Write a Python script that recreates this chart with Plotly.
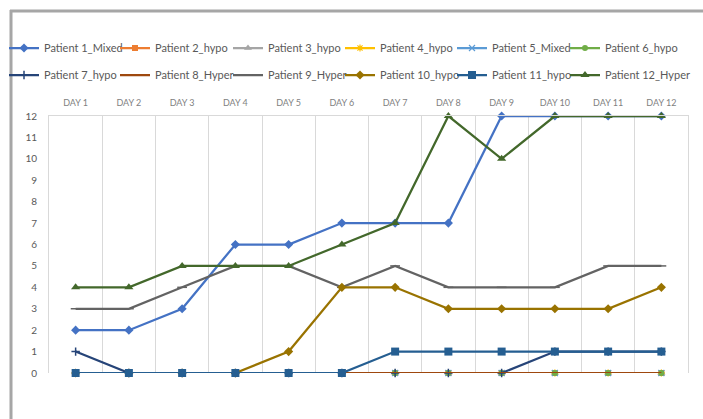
import plotly.graph_objects as go

# Daily scores per patient
days = ["DAY 1", "DAY 2", "DAY 3", "DAY 4", "DAY 5", "DAY 6",
        "DAY 7", "DAY 8", "DAY 9", "DAY 10", "DAY 11", "DAY 12"]

patient_names = ["Patient 1_Mixed", "Patient 2_hypo", "Patient 3_hypo",
                 "Patient 4_hypo", "Patient 5_Mixed", "Patient 6_hypo",
                 "Patient 7_hypo", "Patient 8_Hyper", "Patient 9_Hyper",
                 "Patient 10_hypo", "Patient 11_hypo", "Patient 12_Hyper"]

p1 = [2, 2, 3, 6, 6, 7, 7, 7, 12, 12, 12, 12]
p2 = [0, 0, 0, 0, 0, 0, 0, 0, 0, 0, 0, 0]
p3 = [0, 0, 0, 0, 0, 0, 0, 0, 0, 0, 0, 0]
p4 = [0, 0, 0, 0, 0, 0, 0, 0, 0, 0, 0, 0]
p5 = [0, 0, 0, 0, 0, 0, 0, 0, 0, 0, 0, 0]
p6 = [0, 0, 0, 0, 0, 0, 0, 0, 0, 0, 0, 0]
p7 = [1, 0, 0, 0, 0, 0, 0, 0, 0, 1, 1, 1]
p8 = [0, 0, 0, 0, 0, 0, 0, 0, 0, 0, 0, 0]
p9 = [3, 3, 4, 5, 5, 4, 5, 4, 4, 4, 5, 5]
p10 = [0, 0, 0, 0, 1, 4, 4, 3, 3, 3, 3, 4]
p11 = [0, 0, 0, 0, 0, 0, 1, 1, 1, 1, 1, 1]
p12 = [4, 4, 5, 5, 5, 6, 7, 12, 10, 12, 12, 12]

series = [p1, p2, p3, p4, p5, p6, p7, p8, p9, p10, p11, p12]

colors = ["#4472C4", "#ED7D31", "#A5A5A5", "#FFC000", "#5B9BD5", "#70AD47",
          "#264478", "#9E480E", "#636363", "#997300", "#255E91", "#43682B"]

markers = [
    dict(symbol="diamond", size=7),
    dict(symbol="square", size=6),
    dict(symbol="triangle-up", size=7),
    dict(symbol="asterisk-open", size=6, line=dict(width=1.2)),
    dict(symbol="x-thin-open", size=6, line=dict(width=1.2)),
    dict(symbol="circle", size=6),
    dict(symbol="cross-thin-open", size=6, line=dict(width=1.5)),
    None,
    dict(symbol="line-ew-open", size=7, line=dict(width=1.5)),
    dict(symbol="diamond", size=7),
    dict(symbol="square", size=8),
    dict(symbol="triangle-up", size=8),
]

W, H = 703, 419
L, R, T, B = 49, 15, 116, 46
pw, ph = W - L - R, H - T - B


def px_x(px):
    return (px - L) / pw


def px_y(py):
    return (H - B - py) / ph


# legend grid: 6 columns x 2 rows, one legend box per entry
col_left = [4, 115, 228, 340, 452, 565]
row_mid = [48, 75]

font_family = "Lato, 'Open Sans', sans-serif"
legend_common = dict(orientation="h", xanchor="left", yanchor="middle",
                     itemwidth=30,
                     font=dict(family=font_family, size=11, color="#595959"),
                     bgcolor="rgba(0,0,0,0)", tracegroupgap=0)

fig = go.Figure()
legend_layouts = {}
for i, (name, vals, col, mk) in enumerate(zip(patient_names, series, colors, markers)):
    key = "legend" if i == 0 else f"legend{i + 1}"
    row, c = divmod(i, 6)
    legend_layouts[key] = dict(legend_common, x=px_x(col_left[c]), y=px_y(row_mid[row]))
    kw = dict(x=days, y=vals, name=name, cliponaxis=False, showlegend=True,
              line=dict(color=col, width=2.25), legend=key)
    if mk is None:
        kw["mode"] = "lines"
    else:
        m = dict(mk)
        m["color"] = col
        if "line" in m:
            m["line"] = dict(m["line"], color=col)
        kw["mode"] = "lines+markers"
        kw["marker"] = m
    fig.add_trace(go.Scatter(**kw))

fig.update_layout(
    width=W, height=H,
    showlegend=True,
    margin=dict(l=L, r=R, t=T, b=B, autoexpand=False),
    paper_bgcolor="white", plot_bgcolor="white",
    font=dict(family=font_family, color="#595959"),
    xaxis=dict(
        type="category", side="top", tickson="boundaries",
        showgrid=True, gridcolor="#D9D9D9", gridwidth=1,
        showline=True, linecolor="#D9D9D9", linewidth=1, mirror=False,
        ticks="", ticklabelstandoff=5,
        tickfont=dict(size=9, color="#7F7F7F"),
        range=[-0.5, 11.5], zeroline=False,
    ),
    yaxis=dict(
        range=[0, 12], dtick=1, showgrid=False, zeroline=False,
        showline=True, linecolor="#D9D9D9", linewidth=1, mirror=True,
        ticks="outside", ticklen=9, tickcolor="rgba(0,0,0,0)",
        tickfont=dict(size=10, color="#595959"),
    ),
    shapes=[
        dict(type="line", xref="paper", yref="paper",
             x0=px_x(10), x1=px_x(710), y0=px_y(11), y1=px_y(11),
             line=dict(color="#A6A6A6", width=3)),
        dict(type="line", xref="paper", yref="paper",
             x0=px_x(11), x1=px_x(11), y0=px_y(10), y1=px_y(425),
             line=dict(color="#A6A6A6", width=3)),
    ],
    **legend_layouts,
)

fig.write_html("out.html")
